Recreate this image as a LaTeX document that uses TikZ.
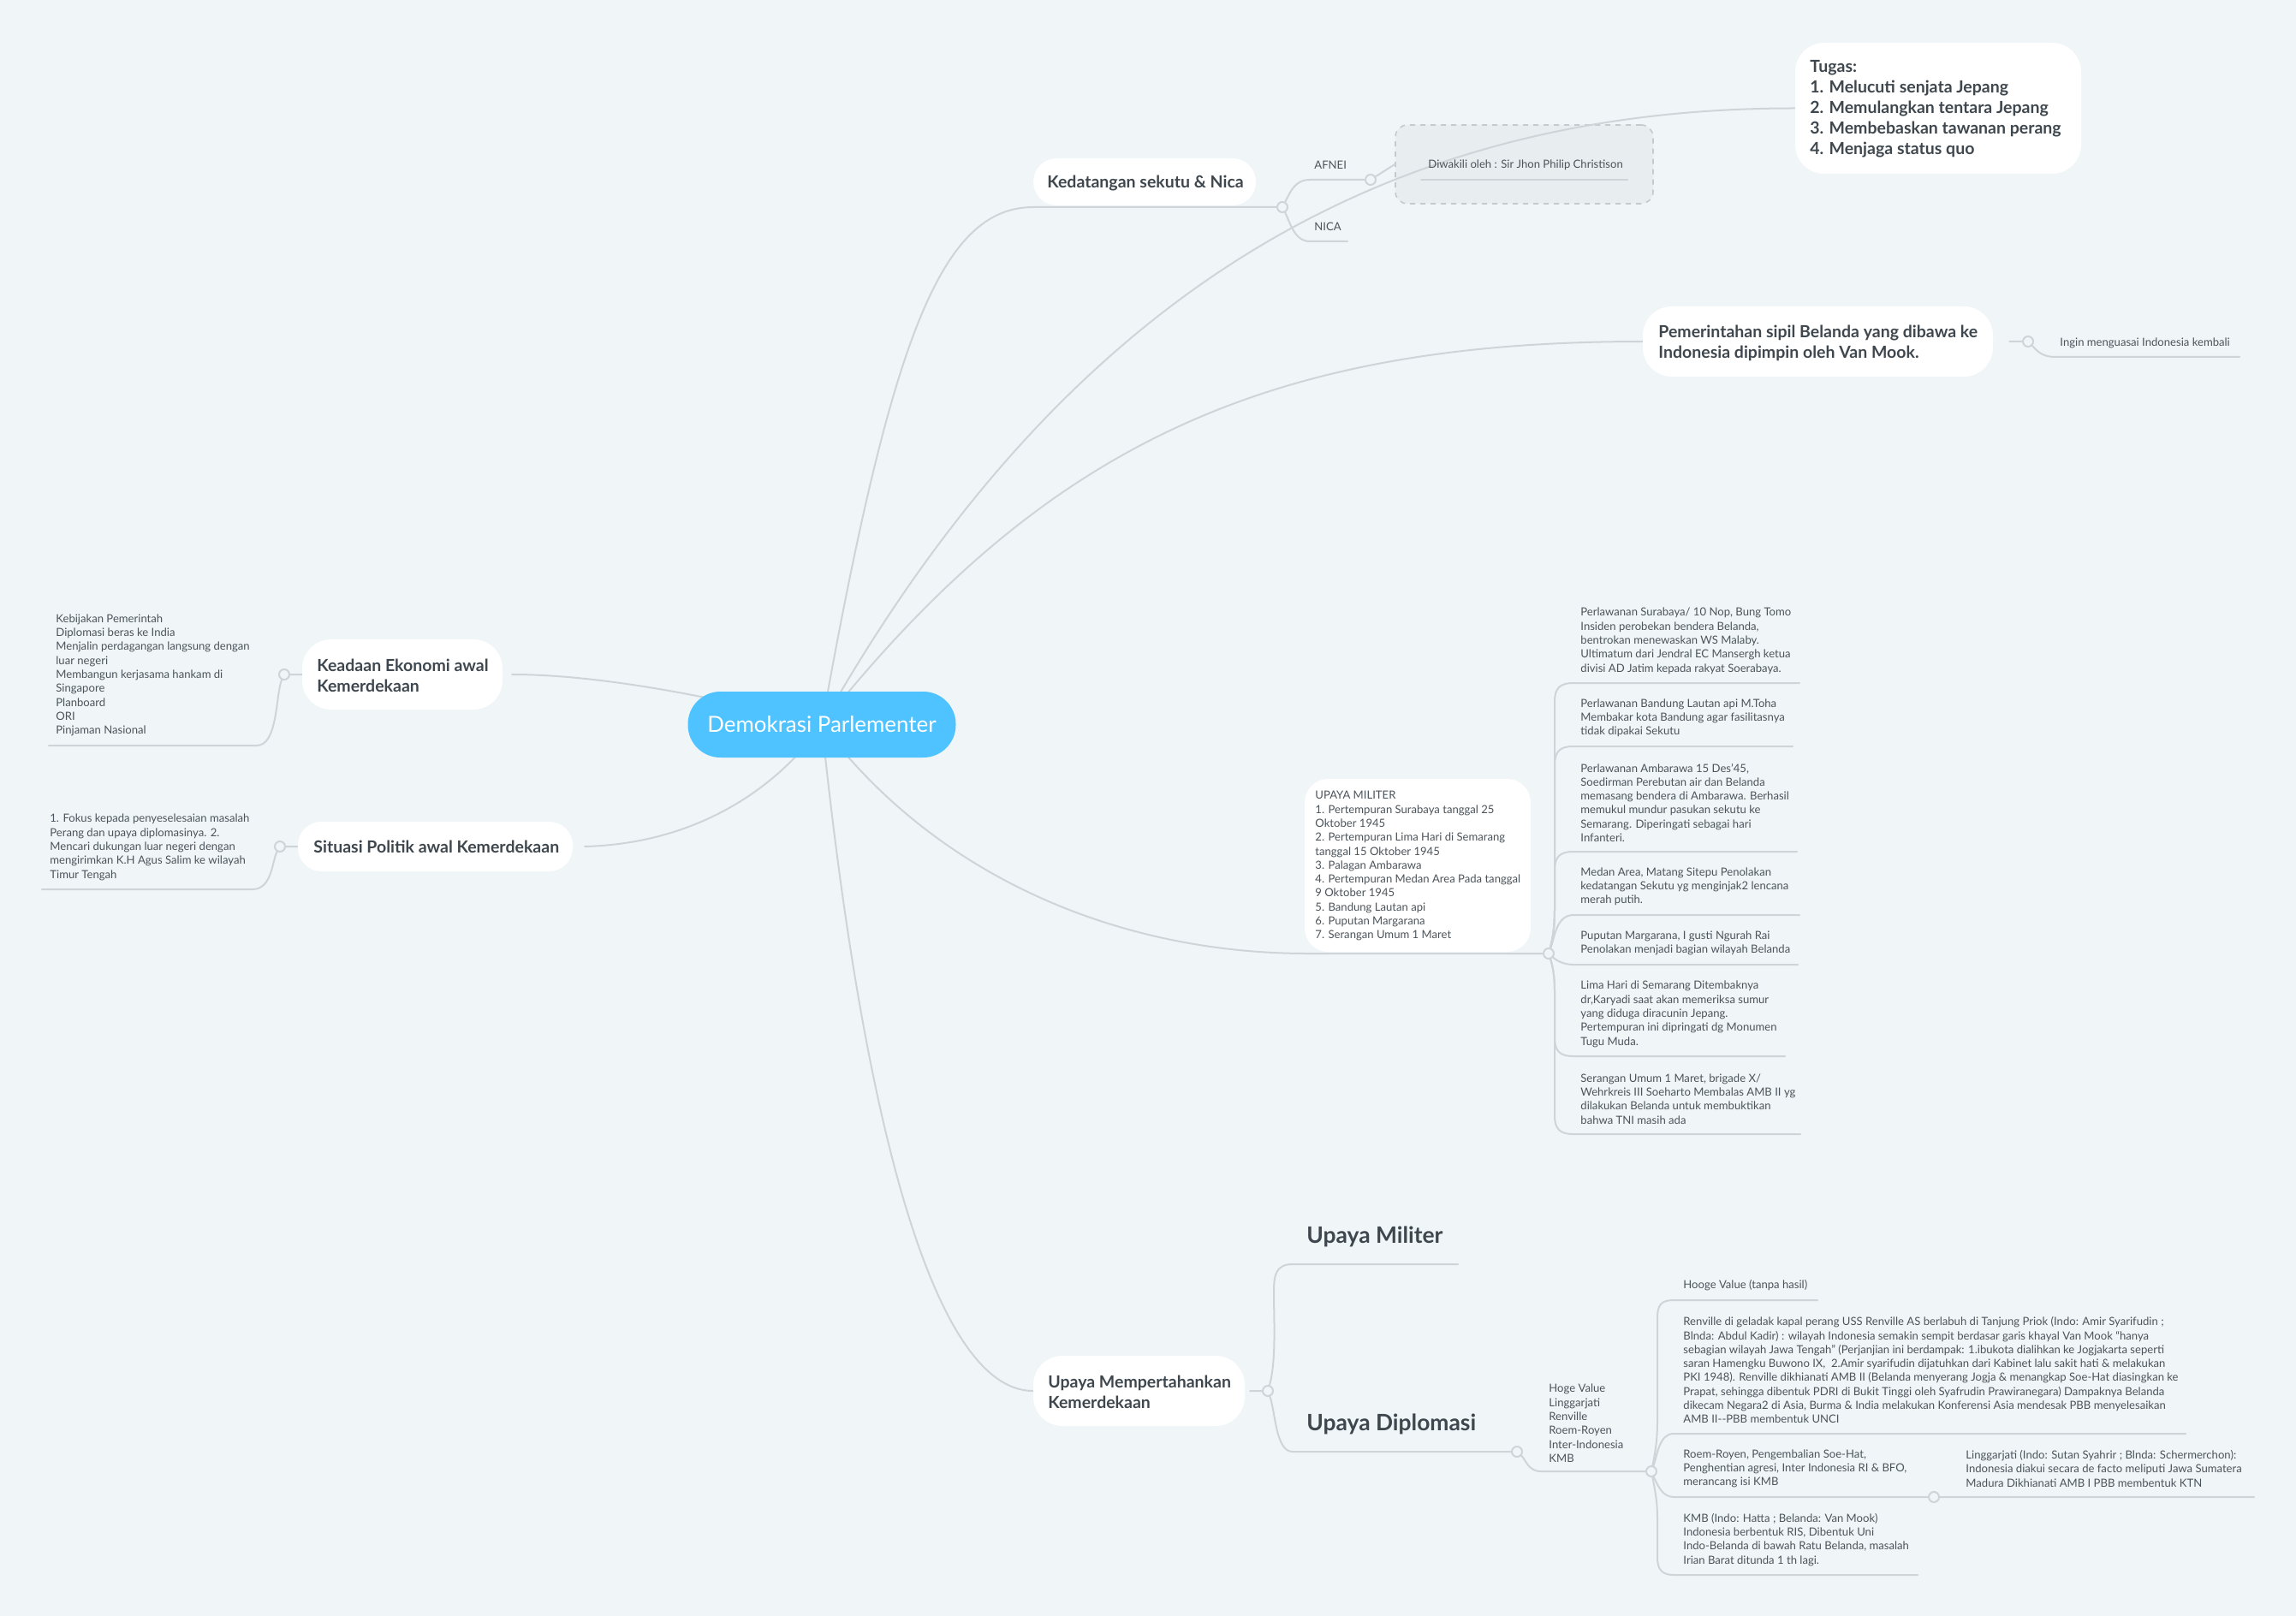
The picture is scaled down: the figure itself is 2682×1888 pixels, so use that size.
\documentclass[tikz,border=0pt]{standalone}
\usepackage{fontspec}
\setmainfont{Lato}
\definecolor{bgc}{HTML}{F0F5F8}
\definecolor{linec}{HTML}{CFD4D8}
\definecolor{ink}{HTML}{3F474E}
\definecolor{inks}{HTML}{4C545B}
\definecolor{mainc}{HTML}{4FC3FF}
\definecolor{boxc}{HTML}{E8EDF0}
\definecolor{dashc}{HTML}{C6CACD}
\pgfdeclarelayer{back}
\pgfdeclarelayer{mid}
\pgfsetlayers{back,mid,main}
\tikzset{
  conn/.style={draw=linec,line width=1pt,line cap=round},
  hub/.style={circle,draw=linec,fill=bgc,line width=1pt,minimum size=6pt,inner sep=0pt},
  small/.style={inner sep=0pt,anchor=west,align=left,yshift=-0.9pt,text=inks,font=\fontsize{6.55}{8.15}\selectfont},
  head/.style={inner sep=0pt,anchor=west,align=left,yshift=-0.8pt,text=ink,font=\bfseries\fontsize{9.75}{12}\selectfont},
  big/.style={inner sep=0pt,anchor=west,align=left,yshift=-1pt,text=ink,font=\bfseries\fontsize{13.2}{16}\selectfont},
  whitebox/.style={fill=white,rounded corners=13.7pt,inner sep=0pt},
  widebox/.style={fill=white,rounded corners=17pt,inner sep=0pt},
}
\begin{document}
\begin{tikzpicture}[x=0.5pt,y=-0.5pt]
\useasboundingbox (0,0) rectangle (2682,1888);
\begin{pgfonlayer}{back}
\fill[bgc] (0,0) rectangle (2682,1888);
\end{pgfonlayer}

% central and white boxes
\node[fill=mainc,rounded corners=19pt,minimum width=156.5pt,minimum height=38.5pt,inner sep=0pt,text=white,font=\fontsize{12.95}{16}\selectfont] (main) at (960,846.5) {Demokrasi Parlementer};

\node[whitebox,minimum width=130pt,minimum height=27.5pt] (ked) at (1337,212.5) {};
\node[head] (kedt) at (1223,212) {Kedatangan sekutu \& Nica};
\node[widebox,minimum width=167pt,minimum height=76.5pt] (tug) at (2264,126.5) {};
\node[head] (tugt) at (2114,126) {Tugas:\\1. Melucuti senjata Jepang\\2. Memulangkan tentara Jepang\\3. Membebaskan tawanan perang\\4. Menjaga status quo};
\node[widebox,minimum width=204.5pt,minimum height=41pt] (pem) at (2123.5,399) {};
\node[head] (pemt) at (1937,399) {Pemerintahan sipil Belanda yang dibawa ke\\Indonesia dipimpin oleh Van Mook.};
\node[widebox,minimum width=117pt,minimum height=41pt] (kea) at (470,788) {};
\node[head] (keat) at (370,788) {Keadaan Ekonomi awal\\Kemerdekaan};
\node[whitebox,minimum width=160.5pt,minimum height=29pt] (sit) at (508.5,989) {};
\node[head] (sitt) at (366,988) {Situasi Politik awal Kemerdekaan};
\node[widebox,minimum width=123.5pt,minimum height=41pt] (upk) at (1330.5,1625) {};
\node[head] (upkt) at (1224,1625) {Upaya Mempertahankan\\Kemerdekaan};
\node[whitebox,minimum width=132pt,minimum height=101pt] (mil) at (1656,1011) {};
\node[small] (milt) at (1536,1010) {UPAYA MILITER\\1. Pertempuran Surabaya tanggal 25\\Oktober 1945\\2. Pertempuran Lima Hari di Semarang\\tanggal 15 Oktober 1945\\3. Palagan Ambarawa\\4. Pertempuran Medan Area Pada tanggal\\9 Oktober 1945\\5. Bandung Lautan api\\6. Puputan Margarana\\7. Serangan Umum 1 Maret};

% dashed box
\begin{pgfonlayer}{back}
\node[fill=boxc,draw=dashc,dashed,line width=0.8pt,rounded corners=7pt,minimum width=150.5pt,minimum height=46pt,inner sep=0pt] (dbox) at (1780.5,192) {};
\end{pgfonlayer}

% hubs
\node[hub] (hked) at (1498,242) {};
\node[hub] (hafn) at (1601,210) {};
\node[hub] (hpem) at (2369,399) {};
\node[hub] (hkea) at (332,788) {};
\node[hub] (hsit) at (327,989) {};
\node[hub] (hmil) at (1809,1114) {};
\node[hub] (hupk) at (1481,1625) {};
\node[hub] (hdip) at (1772,1696) {};
\node[hub] (hkmb) at (1929,1719) {};
\node[hub] (hroe) at (2259,1749) {};

% line ends
\coordinate (eked) at (1207,242);
\coordinate (enica) at (1574,282);
\coordinate (ediwa) at (1660,210);
\coordinate (ediwb) at (1901,210);
\coordinate (eing) at (2616,417);
\coordinate (ekea) at (57,871);
\coordinate (esit) at (49,1039);
\coordinate (ekeab) at (598,788);
\coordinate (esitb) at (683,989);
\coordinate (em1) at (2102,798);
\coordinate (em2) at (2094,872);
\coordinate (em3) at (2099,995);
\coordinate (em4) at (2102,1069);
\coordinate (em5) at (2100,1127);
\coordinate (em6) at (2085,1234);
\coordinate (em7) at (2103,1325);
\coordinate (emil) at (1524,1114);
\coordinate (eupm) at (1703,1477);
\coordinate (ed1) at (2123,1519);
\coordinate (ed2) at (2553,1675);
\coordinate (ed3) at (2633,1749);
\coordinate (ed4) at (2240,1840);
\coordinate (eupk) at (1460,1625);

% connectors
\begin{pgfonlayer}{mid}
\draw[conn] (main.center) .. controls (1040,400) and (1098,242) .. (eked) -- (hked);
\draw[conn] (main.center) .. controls (1235,360) and (1600,126) .. (tug.west);
\draw[conn] (main.center) .. controls (1220,520) and (1480,399) .. (pem.west);
\draw[conn] (main.center) .. controls (1090,1020) and (1300,1113) .. (emil) -- (hmil);
\draw[conn] (main.center) .. controls (1010,1330) and (1095,1625) .. (upk.west);
\draw[conn] (main.center) .. controls (800,805) and (680,788) .. (ekeab);
\draw[conn] (main.center) .. controls (920,905) and (830,985) .. (esitb);
\draw[conn] (hked) .. controls (1507,225) and (1512,210) .. (1530,210) -- (hafn) -- (dbox.west);
\draw[conn] (hked) .. controls (1507,260) and (1512,282) .. (1530,282) -- (enica);
\draw[conn] (ediwa) -- (ediwb);
\draw[conn] (pem.east) ++(19,0) -- (hpem) .. controls (2378,408) and (2384,417) .. (2400,417) -- (eing);
\draw[conn] (kea.west) -- (hkea) .. controls (322,810) and (325,871) .. (300,871) -- (ekea);
\draw[conn] (sit.west) -- (hsit) .. controls (318,1005) and (318,1039) .. (295,1039) -- (esit);
\draw[conn] (eupk) -- (hupk) .. controls (1491,1590) and (1488,1540) .. (1488,1510) .. controls (1488,1490) and (1490,1477) .. (1510,1477) -- (eupm);
\draw[conn] (hupk) .. controls (1490,1650) and (1490,1696) .. (1510,1696) -- (hdip);
\draw[conn] (hdip) .. controls (1782,1705) and (1785,1719) .. (1800,1719) -- (hkmb);
\foreach \ey/\ee in {798/em1,872/em2,995/em3}{
  \draw[conn] (hmil) .. controls (1814,1095) and (1816,1085) .. (1816,1060) -- (1816,\ey+22) .. controls (1816,\ey+6) and (1822,\ey) .. (1838,\ey) -- (\ee);
}
\draw[conn] (hmil) .. controls (1816,1095) and (1818,1069) .. (1838,1069) -- (em4);
\draw[conn] (hmil) .. controls (1818,1122) and (1826,1127) .. (1838,1127) -- (em5);
\foreach \ey/\ee in {1234/em6,1325/em7}{
  \draw[conn] (hmil) .. controls (1814,1130) and (1816,1140) .. (1816,1160) -- (1816,\ey-22) .. controls (1816,\ey-6) and (1822,\ey) .. (1838,\ey) -- (\ee);
}
\draw[conn] (hkmb) .. controls (1934,1695) and (1936,1680) .. (1936,1660) -- (1936,1540) .. controls (1936,1525) and (1940,1519) .. (1955,1519) -- (ed1);
\draw[conn] (hkmb) .. controls (1936,1700) and (1938,1675) .. (1955,1675) -- (ed2);
\draw[conn] (hkmb) .. controls (1936,1735) and (1942,1749) .. (1955,1749) -- (hroe) -- (ed3);
\draw[conn] (hkmb) .. controls (1934,1745) and (1936,1755) .. (1936,1775) -- (1936,1820) .. controls (1936,1834) and (1942,1840) .. (1955,1840) -- (ed4);
\end{pgfonlayer}

% small texts
\node[small] (tafn) at (1535,191) {AFNEI};
\node[small] (tnic) at (1535,263) {NICA};
\node[small] (tdiw) at (1668,191) {Diwakili oleh : Sir Jhon Philip Christison};
\node[small] (ting) at (2406,399) {Ingin menguasai Indonesia kembali};
\node[small] (tkea) at (65,787) {Kebijakan Pemerintah\\Diplomasi beras ke India\\Menjalin perdagangan langsung dengan\\luar negeri\\Membangun kerjasama hankam di\\Singapore\\Planboard\\ORI\\Pinjaman Nasional};
\node[small] (tsit) at (58,988) {1. Fokus kepada penyeselesaian masalah\\Perang dan upaya diplomasinya. 2.\\Mencari dukungan luar negeri dengan\\mengirimkan K.H Agus Salim ke wilayah\\Timur Tengah};
\node[small] (tm1) at (1846,747) {Perlawanan Surabaya/ 10 Nop, Bung Tomo\\Insiden perobekan bendera Belanda,\\bentrokan menewaskan WS Malaby.\\Ultimatum dari Jendral EC Mansergh ketua\\divisi AD Jatim kepada rakyat Soerabaya.};
\node[small] (tm2) at (1846,837) {Perlawanan Bandung Lautan api M.Toha\\Membakar kota Bandung agar fasilitasnya\\tidak dipakai Sekutu};
\node[small] (tm3) at (1846,936) {Perlawanan Ambarawa 15 Des'45,\\Soedirman Perebutan air dan Belanda\\memasang bendera di Ambarawa. Berhasil\\memukul mundur pasukan sekutu ke\\Semarang. Diperingati sebagai hari\\Infanteri.};
\node[small] (tm4) at (1846,1034) {Medan Area, Matang Sitepu Penolakan\\kedatangan Sekutu yg menginjak2 lencana\\merah putih.};
\node[small] (tm5) at (1846,1100) {Puputan Margarana, I gusti Ngurah Rai\\Penolakan menjadi bagian wilayah Belanda};
\node[small] (tm6) at (1846,1183) {Lima Hari di Semarang Ditembaknya\\dr,Karyadi saat akan memeriksa sumur\\yang diduga diracunin Jepang.\\Pertempuran ini dipringati dg Monumen\\Tugu Muda.};
\node[small] (tm7) at (1846,1282) {Serangan Umum 1 Maret, brigade X/\\Wehrkreis III Soeharto Membalas AMB II yg\\dilakukan Belanda untuk membuktikan\\bahwa TNI masih ada};
\node[big] (tupm) at (1526,1443) {Upaya Militer};
\node[big] (tupd) at (1526,1662) {Upaya Diplomasi};
\node[small] (tdip) at (1809,1661) {Hoge Value\\Linggarjati\\Renville\\Roem-Royen\\Inter-Indonesia\\KMB};
\node[small] (td1) at (1966,1500) {Hooge Value (tanpa hasil)};
\node[small] (td2) at (1966,1599) {Renville di geladak kapal perang USS Renville AS berlabuh di Tanjung Priok (Indo: Amir Syarifudin ;\\Blnda: Abdul Kadir) : wilayah Indonesia semakin sempit berdasar garis khayal Van Mook ``hanya\\sebagian wilayah Jawa Tengah'' (Perjanjian ini berdampak: 1.ibukota dialihkan ke Jogjakarta seperti\\saran Hamengku Buwono IX,\ \ 2.Amir syarifudin dijatuhkan dari Kabinet lalu sakit hati \& melakukan\\PKI 1948). Renville dikhianati AMB II (Belanda menyerang Jogja \& menangkap Soe-Hat diasingkan ke\\Prapat, sehingga dibentuk PDRI di Bukit Tinggi oleh Syafrudin Prawiranegara) Dampaknya Belanda\\dikecam Negara2 di Asia, Burma \& India melakukan Konferensi Asia mendesak PBB menyelesaikan\\AMB II-{}-PBB membentuk UNCI};
\node[small] (td3) at (1966,1714) {Roem-Royen, Pengembalian Soe-Hat,\\Penghentian agresi, Inter Indonesia RI \& BFO,\\merancang isi KMB};
\node[small] (td4) at (2296,1714) {Linggarjati (Indo: Sutan Syahrir ; Blnda: Schermerchon):\\Indonesia diakui secara de facto meliputi Jawa Sumatera\\Madura Dikhianati AMB I PBB membentuk KTN};
\node[small] (td5) at (1966,1797) {KMB (Indo: Hatta ; Belanda: Van Mook)\\Indonesia berbentuk RIS, Dibentuk Uni\\Indo-Belanda di bawah Ratu Belanda, masalah\\Irian Barat ditunda 1 th lagi.};
\end{tikzpicture}
\end{document}
